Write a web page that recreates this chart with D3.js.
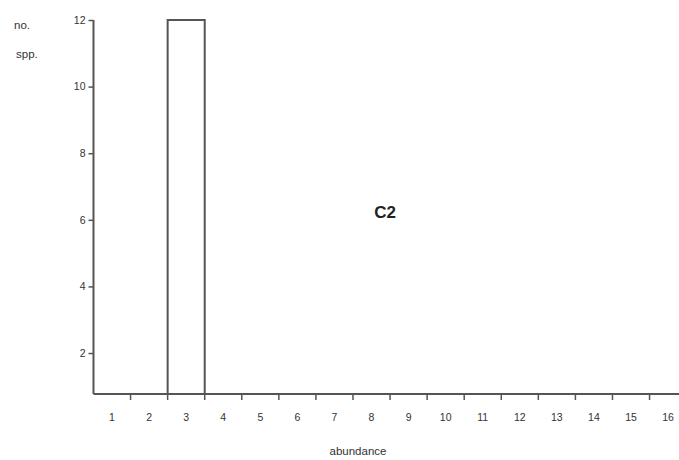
<!DOCTYPE html>
<html>
<head>
<meta charset="utf-8">
<script src="https://cdn.jsdelivr.net/npm/d3@7/dist/d3.min.js"></script>
<style>
  body { margin: 0; background: #fff; }
  text { font-family: Arial, "Liberation Sans", sans-serif; fill: #333; }
</style>
</head>
<body>
<div id="chart"></div>
<script>
(function(d3) {
  'use strict';

  var abundance = ['1','2','3','4','5','6','7','8','9','10','11','12','13','14','15','16'];
  var species = [0, 0, 12, 0, 0, 0, 0, 0, 0, 0, 0, 0, 0, 0, 0, 0];
  var yTicks = [2, 4, 6, 8, 10, 12];
  var panelLabel = 'C2';

  var width = 679, height = 460;
  var left = 93.5, top = 20, bottom = 394;
  var bandW = 37.07;

  var svg = d3.select('#chart').append('svg')
    .attr('width', width)
    .attr('height', height);

  var x = d3.scaleBand()
    .domain(abundance)
    .range([left, left + bandW * abundance.length])
    .padding(0);

  var y = d3.scaleLinear()
    .domain([0.77, 12])
    .range([bottom, top]);

  var axisColor = '#555';

  // bars (only non-empty classes)
  var data = abundance.map(function(a, i) { return { a: a, n: species[i] }; })
    .filter(function(d) { return d.n > 0; });

  svg.selectAll('rect.bar')
    .data(data)
    .enter()
    .append('rect')
    .attr('class', 'bar')
    .attr('x', function(d) { return x(d.a); })
    .attr('y', function(d) { return y(d.n); })
    .attr('width', x.bandwidth())
    .attr('height', function(d) { return y(y.domain()[0]) - y(d.n); })
    .attr('fill', '#fff')
    .attr('stroke', axisColor)
    .attr('stroke-width', 2);

  // y axis
  var yAxis = svg.append('g')
    .attr('transform', 'translate(' + left + ',0)')
    .call(d3.axisLeft(y).tickValues(yTicks).tickSize(5).tickPadding(3));
  yAxis.select('.domain').remove();
  yAxis.selectAll('line').attr('stroke', axisColor).attr('stroke-width', 1.5);
  yAxis.selectAll('text').style('font-size', '10.5px');
  yAxis.append('line')
    .attr('x1', 0).attr('x2', 0)
    .attr('y1', top).attr('y2', bottom)
    .attr('stroke', axisColor).attr('stroke-width', 2);

  // x axis, ticks between classes
  var boundaries = abundance.slice(1).map(function(a) { return x(a); });
  var xg = svg.append('g');
  xg.append('line')
    .attr('x1', left).attr('x2', width)
    .attr('y1', bottom).attr('y2', bottom)
    .attr('stroke', axisColor).attr('stroke-width', 2);
  xg.selectAll('line.tick')
    .data(boundaries)
    .enter()
    .append('line')
    .attr('class', 'tick')
    .attr('x1', function(d) { return d; })
    .attr('x2', function(d) { return d; })
    .attr('y1', bottom).attr('y2', bottom + 6)
    .attr('stroke', axisColor).attr('stroke-width', 1.5);
  xg.selectAll('text.lab')
    .data(abundance)
    .enter()
    .append('text')
    .attr('class', 'lab')
    .attr('x', function(d) { return x(d) + x.bandwidth() / 2; })
    .attr('y', bottom + 27)
    .attr('text-anchor', 'middle')
    .style('font-size', '10.5px')
    .text(function(d) { return d; });

  // titles
  svg.append('text')
    .attr('x', 358).attr('y', 455)
    .attr('text-anchor', 'middle')
    .style('font-size', '11.5px')
    .text('abundance');

  svg.append('text')
    .attr('x', 14).attr('y', 29)
    .style('font-size', '11.5px')
    .text('no.');
  svg.append('text')
    .attr('x', 16).attr('y', 58)
    .style('font-size', '11.5px')
    .text('spp.');

  svg.append('text')
    .attr('x', 385).attr('y', 218)
    .attr('text-anchor', 'middle')
    .style('font-size', '17px')
    .style('font-weight', 'bold')
    .style('fill', '#222')
    .text(panelLabel);

})(window.d3);
</script>
</body>
</html>
